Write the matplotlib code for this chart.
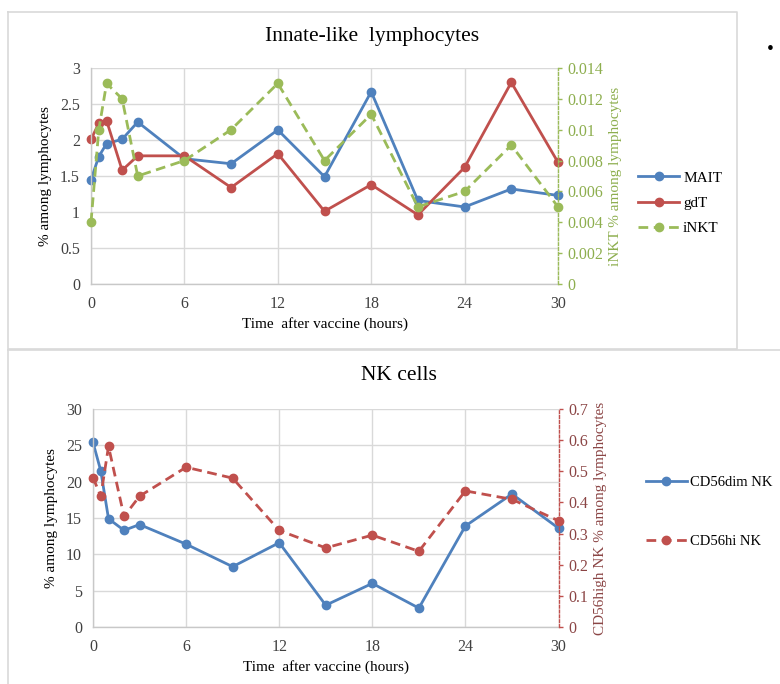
import matplotlib
matplotlib.use("Agg")
import matplotlib.pyplot as plt
from matplotlib.lines import Line2D

plt.rcParams['font.family'] = ['Liberation Serif', 'DejaVu Serif']

# ---------------- data ----------------
hours = [0, 0.5, 1, 2, 3, 6, 9, 12, 15, 18, 21, 24, 27, 30]
xticks = [0, 6, 12, 18, 24, 30]

mait = [1.45, 1.77, 1.95, 2.01, 2.25, 1.74, 1.67, 2.14, 1.49, 2.67, 1.16, 1.07, 1.32, 1.23]
gdt = [2.01, 2.23, 2.27, 1.58, 1.78, 1.78, 1.34, 1.81, 1.01, 1.38, 0.96, 1.62, 2.80, 1.69]
inkt = [0.004, 0.010, 0.013, 0.012, 0.007, 0.008, 0.010, 0.013, 0.008, 0.011, 0.005, 0.006, 0.009, 0.005]

cd56dim = [25.4, 21.5, 14.9, 13.3, 14.1, 11.4, 8.3, 11.6, 3.0, 6.0, 2.6, 13.9, 18.3, 13.6]
cd56hi = [0.48, 0.42, 0.58, 0.355, 0.42, 0.513, 0.478, 0.31, 0.254, 0.295, 0.243, 0.437, 0.41, 0.341]

top_left_ticks = [0, 0.5, 1, 1.5, 2, 2.5, 3]
top_left_labels = ['0', '0.5', '1', '1.5', '2', '2.5', '3']
top_right_ticks = [0, 0.002, 0.004, 0.006, 0.008, 0.01, 0.012, 0.014]
top_right_labels = ['0', '0.002', '0.004', '0.006', '0.008', '0.01', '0.012', '0.014']
bot_left_ticks = [0, 5, 10, 15, 20, 25, 30]
bot_right_ticks = [0, 0.1, 0.2, 0.3, 0.4, 0.5, 0.6, 0.7]
bot_right_labels = ['0', '0.1', '0.2', '0.3', '0.4', '0.5', '0.6', '0.7']

BLUE = '#4F81BD'
RED = '#C0504D'
GREEN = '#9BBB59'
GREEN_TXT = '#8DAE4E'
BROWN = '#8B4545'
GRID = '#D9D9D9'
TXT = '#404040'

W, H = 780, 684
fig = plt.figure(figsize=(W / 100, H / 100), dpi=100)


def fx(px):
    return px / W


def fy(py):
    return 1 - py / H


# panel borders
border_kw = dict(color='#D9D9D9', lw=1.2, transform=fig.transFigure)
fig.add_artist(Line2D([fx(8), fx(737), fx(737), fx(8), fx(8)],
                      [fy(12), fy(12), fy(349), fy(349), fy(12)], **border_kw))
fig.add_artist(Line2D([fx(8), fx(780)], [fy(350), fy(350)], **border_kw))
fig.add_artist(Line2D([fx(8), fx(8)], [fy(350), fy(684)], **border_kw))

FS = 11
TFS = 11.5


def style_axes(ax, ax2, left_ticks, left_labels, right_ticks, right_labels, rcolor, ymax, y2max):
    ax.set_xlim(0, 30)
    ax.set_ylim(0, ymax)
    ax2.set_ylim(0, y2max)
    ax.set_xticks(xticks)
    ax.set_xticklabels([str(t) for t in xticks])
    ax.set_yticks(left_ticks)
    ax.set_yticklabels(left_labels)
    ax2.set_yticks(right_ticks)
    ax2.set_yticklabels(right_labels)
    ax.grid(True, color=GRID, lw=1.0)
    ax.set_axisbelow(True)
    for s in ['top', 'right']:
        ax.spines[s].set_visible(False)
    for s in ['left', 'bottom']:
        ax.spines[s].set_color('#C8C8C8')
        ax.spines[s].set_linewidth(1.0)
    for s in ['top', 'left', 'bottom']:
        ax2.spines[s].set_visible(False)
    ax2.spines['right'].set_color(rcolor)
    ax2.spines['right'].set_linestyle((0, (2, 1.5)))
    ax2.spines['right'].set_linewidth(1.0)
    ax.tick_params(axis='x', length=0, labelsize=TFS, labelcolor=TXT, pad=8.5)
    ax.tick_params(axis='y', length=0, labelsize=TFS, labelcolor=TXT, pad=8)
    ax2.tick_params(axis='y', length=3, width=1.0, color=rcolor, labelsize=TFS,
                    labelcolor=rcolor, pad=4)


line_kw = dict(lw=2.0, marker='o', markersize=6)

# ---------------- top panel ----------------
ax1 = fig.add_axes([fx(91), fy(284), (558 - 91) / W, (284 - 68) / H])
ax1b = ax1.twinx()
l1, = ax1.plot(hours, mait, color=BLUE, label='MAIT', **line_kw)
l2, = ax1.plot(hours, gdt, color=RED, label='gdT', **line_kw)
l3, = ax1b.plot(hours, inkt, color=GREEN, ls=(0, (3.5, 2)), label='iNKT', **line_kw)
for l in (l1, l2, l3):
    l.set_clip_on(False)
style_axes(ax1, ax1b, top_left_ticks, top_left_labels, top_right_ticks, top_right_labels,
           GREEN, 3, 0.014)
ax1.set_xlabel('Time  after vaccine (hours)', fontsize=FS, color='black', labelpad=4)
ax1.set_ylabel('% among lymphocytes', fontsize=FS, color='black', labelpad=6)
ax1b.set_ylabel('iNKT % among lymphocytes', fontsize=FS, color=GREEN_TXT, labelpad=4)
for t in ax1b.get_yticklabels():
    t.set_color(GREEN_TXT)
fig.text(fx(372), fy(37), 'Innate-like  lymphocytes', fontsize=15.5, ha='center', va='center')
fig.legend(handles=[l1, l2, l3], loc='upper left', bbox_to_anchor=(fx(638), fy(171)),
           frameon=False, fontsize=FS, handlelength=2.7, handletextpad=0.25,
           labelspacing=0.75, borderpad=0, borderaxespad=0)

# ---------------- bottom panel ----------------
ax2 = fig.add_axes([fx(93), fy(627), (558.5 - 93) / W, (627 - 409) / H])
ax2b = ax2.twinx()
m1, = ax2.plot(hours, cd56dim, color=BLUE, label='CD56dim NK', **line_kw)
m2, = ax2b.plot(hours, cd56hi, color=RED, ls=(0, (3.5, 2)), label='CD56hi NK', **line_kw)
for l in (m1, m2):
    l.set_clip_on(False)
style_axes(ax2, ax2b, bot_left_ticks, [str(t) for t in bot_left_ticks], bot_right_ticks,
           bot_right_labels, RED, 30, 0.7)
for t in ax2b.get_yticklabels():
    t.set_color(BROWN)
ax2.set_xlabel('Time  after vaccine (hours)', fontsize=FS, color='black', labelpad=4)
ax2.set_ylabel('% among lymphocytes', fontsize=FS, color='black', labelpad=6)
ax2b.set_ylabel('CD56high NK % among lymphocytes', fontsize=FS, color=BROWN, labelpad=4)
fig.text(fx(399), fy(375), 'NK cells', fontsize=15.5, ha='center', va='center')
fig.legend(handles=[m1, m2], loc='upper left', bbox_to_anchor=(fx(646), fy(476)),
           frameon=False, fontsize=10.5, handlelength=2.8, handletextpad=0.25,
           labelspacing=3.1, borderpad=0, borderaxespad=0)

# stray bullet at top right
fig.text(fx(770), fy(50), '\u2022', fontsize=14, ha='center', va='center')

fig.savefig('out.png', dpi=100)
